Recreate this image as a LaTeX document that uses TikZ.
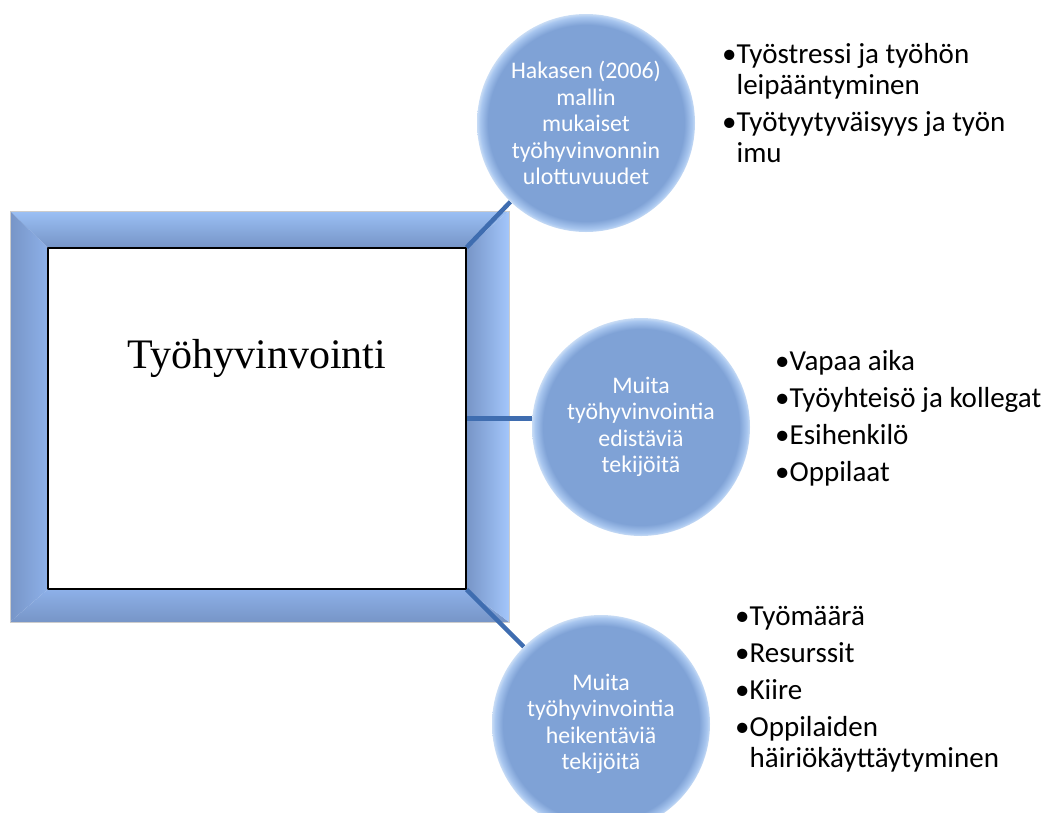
\documentclass[tikz,border=0pt]{standalone}
\usetikzlibrary{backgrounds}
\usepackage{fontspec}
\setmainfont{Carlito}
\newfontfamily\otsikkofont{Liberation Serif}
\definecolor{kehysvalo}{HTML}{9BC0F5}
\definecolor{kehystumma}{HTML}{7795C7}
\definecolor{kehyskeski}{HTML}{8DB0E8}
\definecolor{kehysoikea}{HTML}{A3C6FB}
\definecolor{pallokeski}{HTML}{7FA2D6}
\definecolor{pallonreuna}{HTML}{A8C6EF}
\definecolor{pallonhehku}{HTML}{C8DCF5}
\definecolor{viiva}{HTML}{3F6DB0}
\pgfdeclareradialshading{pallo}{\pgfpoint{0bp}{0bp}}{%
  color(0bp)=(pallokeski); color(22.5bp)=(pallokeski);
  color(24.3bp)=(pallonreuna); color(25bp)=(pallonhehku); color(50bp)=(pallonhehku)}
\newlength\bulletwd
\newcommand*\punkt[1]{\settowidth\bulletwd{•}\parskip=6pt\spaceskip=0pt\xspaceskip=0pt
  \noindent\hangindent=\bulletwd •#1\par}

\begin{document}
\begin{tikzpicture}[x=1pt,y=-1pt,line cap=round,line join=round,
  ydin/.style={draw=black,line width=1.2pt,fill=white,minimum width=418pt,minimum height=341pt,inner sep=0pt},
  pallo/.style={circle,minimum size=218pt,inner sep=0pt,shading=pallo,
    text=white,align=center,font=\fontsize{23.8}{26.5}\selectfont},
  yhdys/.style={draw=viiva,line width=4.5pt,line cap=butt},
  lista/.style={anchor=base west,text width=330pt,align=left,inner sep=0pt,font=\fontsize{29}{31}\selectfont}]
\clip (0,0) rectangle (1051,812);

\node[ydin] (ydin) at (257,418.5) {};
\node[anchor=base,font=\otsikkofont\fontsize{42}{50}\selectfont] (otsikko) at (257,368) {Työhyvinvointi};

\node[pallo] (hakanen) at (586,123) {Hakasen (2006)\\mallin\\mukaiset\\työhyvinvonnin\\ulottuvuudet};
\node[pallo] (edistavat) at (641,427) {Muita\\työhyvinvointia\\edistäviä\\tekijöitä};
\node[pallo] (heikentavat) at (601,724) {Muita\\työhyvinvointia\\heikentäviä\\tekijöitä};

\begin{scope}[on background layer]
% kehys ytimen ympari
\coordinate (onw) at (10,211);
\coordinate (one) at (509,211);
\coordinate (ose) at (509,622);
\coordinate (osw) at (10,622);
\shade[top color=kehysvalo,bottom color=kehystumma] (onw) -- (one) -- (ydin.north east) -- (ydin.north west) -- cycle;
\shade[top color=kehyskeski,bottom color=kehystumma] (osw) -- (ose) -- (ydin.south east) -- (ydin.south west) -- cycle;
\shade[left color=kehystumma,right color=kehyskeski] (onw) -- (ydin.north west) -- (ydin.south west) -- (osw) -- cycle;
\shade[left color=kehystumma,right color=kehysoikea] (one) -- (ydin.north east) -- (ydin.south east) -- (ose) -- cycle;
\draw[gray!40,line width=0.8pt] (onw) rectangle (ose);

\draw[yhdys] (ydin.north east) -- (hakanen);
\draw[yhdys] (ydin.east) -- (ydin.east -| edistavat.west);
\draw[yhdys] (ydin.south east) -- (heikentavat);
\end{scope}

\node[lista] (hakasenlista) at (722,63) {\punkt{Työstressi ja työhön\newline leipääntyminen}\punkt{Työtyytyväisyys ja työn\newline imu}};
\node[lista] (edistavalista) at (775,370) {\punkt{Vapaa aika}\punkt{Työyhteisö ja kollegat}\punkt{Esihenkilö}\punkt{Oppilaat}};
\node[lista] (heikentavalista) at (735,625) {\punkt{Työmäärä}\punkt{Resurssit}\punkt{Kiire}\punkt{Oppilaiden\newline häiriökäyttäytyminen}};
\end{tikzpicture}
\end{document}
